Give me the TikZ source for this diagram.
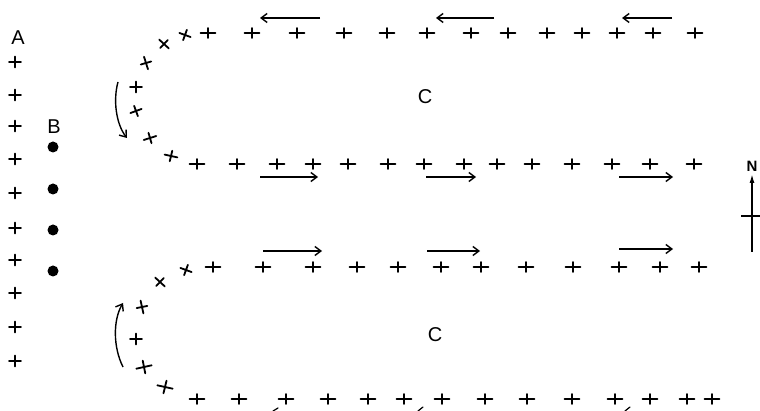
\documentclass[tikz,border=0pt]{standalone}
\usepackage{fontspec}
\setsansfont{Liberation Sans}
\usetikzlibrary{arrows.meta}
\tikzset{
  mk/.style={line width=1.8pt, line cap=round},
  plusmark/.pic={\draw[mk] (-7.5,0)--(7.5,0) (0,-5)--(0,5);},
  smallplus/.pic={\draw[mk] (-6,0)--(6,0) (0,-5.5)--(0,5.5);},
  crossmark/.pic={\draw[mk] (-5.5,-3.5)--(5.5,3.5) (-3,4.5)--(3,-4.5);},
  flow/.style={line width=1.4pt, -{Straight Barb[length=6pt,width=9pt,line width=1.4pt]}},
  lbl/.style={font=\sffamily\fontsize{20}{20}\selectfont, inner sep=0pt},
  dotmark/.style={circle, fill=black, minimum size=11pt, inner sep=0pt}
}
\begin{document}
\begin{tikzpicture}[x=1pt,y=-1pt]
\useasboundingbox[fill=white] (0,0) rectangle (760,411);
% labels
\node[lbl] (A) at (18,38) {A};
\node[lbl] (B) at (54,127) {B};
\node[lbl] (C1) at (425,97) {C};
\node[lbl] (C2) at (435,335) {C};
\node[font=\sffamily\bfseries\fontsize{15}{15}\selectfont, inner sep=0pt] (N) at (752,166) {N};
% column A
\foreach \y in {62,95,126,159,193,228,260,293,327,361}
  \pic at (15,\y) {smallplus};
% column B dots
\foreach \y [count=\i] in {147,189,230,271}
  \node[dotmark] (d\i) at (53,\y) {};
% rows
\foreach \x in {208,252,297,344,387,427,471,508,547,582,617,653,695}
  \pic at (\x,33) {plusmark};
\foreach \x in {197,237,277,313,348,388,424,464,497,532,572,612,650,694}
  \pic at (\x,164) {plusmark};
\foreach \x in {213,263,313,357,398,441,481,526,573,619,660,699}
  \pic at (\x,267) {plusmark};
\foreach \x in {197,239,286,328,368,404,442,485,527,572,615,650,687,712}
  \pic at (\x,399) {plusmark};
% top-left curve marks
\pic[rotate=-20] at (185,35) {smallplus};
\pic[rotate=-10] at (164,44) {crossmark};
\pic[rotate=-40] at (146,63) {crossmark};
\pic at (136,87) {smallplus};
\pic[rotate=20] at (136,111) {smallplus};
\pic[rotate=50] at (150,138) {crossmark};
\pic[rotate=20] at (171,156) {crossmark};
% bottom-left curve marks
\pic[rotate=-20] at (186,270) {smallplus};
\pic[rotate=-10] at (160,282) {crossmark};
\pic[rotate=-45] at (142,307) {crossmark};
\pic at (136,339) {smallplus};
\pic[rotate=45,scale=1.2] at (144,367) {crossmark};
\pic[rotate=20,scale=1.2] at (165,387) {crossmark};
% straight flow arrows
\draw[flow] (320,18) -- (260,18);
\draw[flow] (494,18) -- (436,18);
\draw[flow] (672,18) -- (622,18);
\draw[flow] (260,177) -- (318,177);
\draw[flow] (426,177) -- (476,177);
\draw[flow] (619,177) -- (673,177);
\draw[flow] (263,251) -- (322,251);
\draw[flow] (427,251) -- (480,251);
\draw[flow] (619,249) -- (673,249);
% curved arrows
\draw[flow] (118,82) .. controls (113,100) and (116,124) .. (127,138);
\draw[flow] (123,367) .. controls (113,347) and (113,320) .. (123,303);
% cut-off marks at bottom edge
\draw[mk, line width=1.2pt] (273,411) -- (278,408);
\draw[mk, line width=1.2pt] (418,411) -- (423,407);
\draw[mk, line width=1.2pt] (625,411) -- (630,407);
% north arrow
\coordinate (Nb) at (752,252);
\coordinate (Nt) at (752,174);
\draw[line width=1.5pt, -{Latex[length=9pt,width=5pt]}] (Nb) -- (Nt);
\coordinate (Cl) at (741,216);
\coordinate (Cr) at (760,216);
\draw[line width=1.2pt] (Cl) -- (Cr);
\end{tikzpicture}
\end{document}
